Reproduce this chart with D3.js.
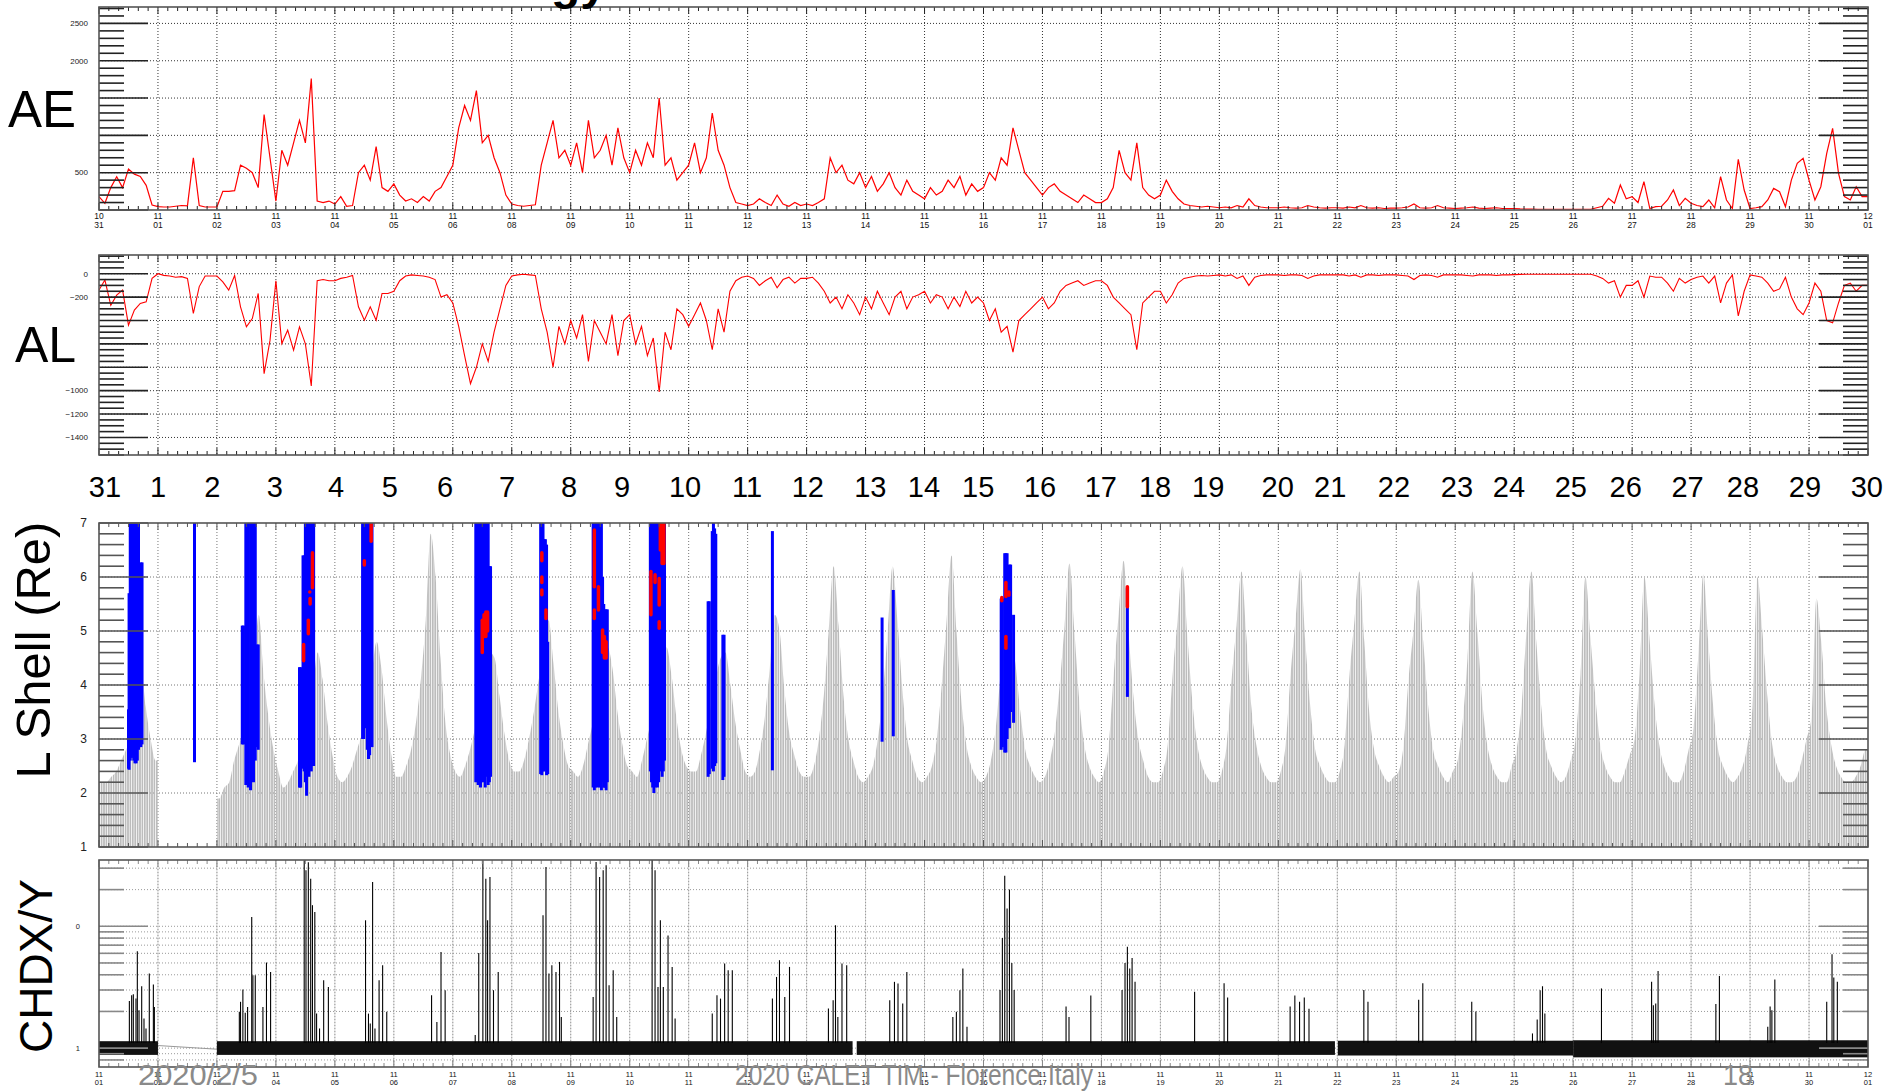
<!DOCTYPE html>
<html>
<head>
<meta charset="utf-8">
<script src="https://cdn.jsdelivr.net/npm/d3@7"></script>
<style>
  body { margin: 0; background: #fff; }
  svg { display: block; }
  text { font-family: "Liberation Sans", Arial, sans-serif; }
</style>
</head>
<body>
<svg id="chart" width="1891" height="1091"></svg>
<script>
// ---- tick labels ----
var topMonth = ["10","11","11","11","11","11","11","11","11","11","11","11","11","11","11","11","11","11","11","11","11","11","11","11","11","11","11","11","11","11","12"];
var topDay = ["31","01","02","03","04","05","06","08","09","10","11","12","13","14","15","16","17","18","19","20","21","22","23","24","25","26","27","28","29","30","01"];
var botMonth = ["11","11","11","11","11","11","11","11","11","11","11","11","11","11","11","11","11","11","11","11","11","11","11","11","11","11","11","11","11","11","12"];
var botDay = ["01","02","03","04","05","06","07","08","09","10","11","12","13","14","15","16","17","18","19","20","21","22","23","24","25","26","27","28","29","30","01"];

// big day numbers above the L shell panel (position in day units)
var bigDays = ["31","1","2","3","4","5","6","7","8","9","10","11","12","13","14","15","16","17","18","19","20","21","22","23","24","25","26","27","28","29","30"];
var bigDayPos = [0.10,1.00,1.92,2.98,4.02,4.93,5.87,6.92,7.97,8.87,9.94,10.99,12.02,13.08,13.99,14.91,15.96,16.99,17.91,18.81,19.99,20.88,21.96,23.03,23.91,24.96,25.89,26.94,27.88,28.93,29.98];

// ---- AE (nT), one value every 0.1 day ----
var aeStep = 0.1;
var aeValues = [
 180,90,300,446,300,550,480,450,330,67,
 45,40,40,50,60,55,700,60,40,40,
 40,250,250,260,600,560,500,300,1280,700,
 120,800,600,900,1200,900,1760,120,100,120,
 80,180,50,60,500,600,400,850,300,250,
 350,200,120,150,100,180,120,250,300,450,
 600,1100,1400,1200,1600,900,1000,700,500,200,
 80,60,50,60,70,600,900,1200,700,800,
 600,900,500,1200,700,800,1000,600,1100,700,
 500,800,600,900,700,1500,600,700,400,500,
 600,900,500,700,1300,800,600,300,100,80,
 60,80,150,100,60,200,80,50,100,60,
 80,60,100,150,700,500,600,400,350,500,
 300,450,250,350,500,300,200,400,250,200,
 150,300,200,250,400,300,450,200,350,250,
 300,500,400,700,600,1100,800,500,400,300,
 200,300,350,250,200,150,100,200,150,100,
 100,150,300,800,500,400,900,300,200,150,
 200,400,250,150,80,60,50,40,50,40,
 30,40,30,60,40,150,60,40,30,30,
 30,40,30,25,30,60,40,30,25,30,
 30,25,40,30,60,30,25,30,20,25,
 25,30,40,80,30,25,30,60,30,25,
 20,25,30,40,25,20,25,30,20,20,
 20,15,12,12,10,10,10,10,10,10,
 10,10,10,10,30,50,156,90,335,150,
 178,100,380,20,45,50,134,268,60,156,
 90,60,45,134,30,446,134,20,680,268,
 20,30,45,134,290,245,45,400,625,692,
 400,134,312,760,1094,490,180,134,312,180,
 180
];

// ---- AL (nT), one value every 0.1 day ----
var alValues = [
 -140,-54,-270,-183,-140,-440,-311,-254,-240,-40,
 0,-14,-20,-30,-25,-40,-340,-110,-20,-20,
 -20,-70,-140,-15,-283,-454,-383,-169,-854,-570,
 -60,-597,-483,-654,-454,-600,-960,-60,-50,-60,
 -60,-40,-30,-15,-283,-397,-283,-397,-169,-169,
 -150,-60,-20,-10,-15,-20,-30,-50,-200,-180,
 -250,-450,-700,-940,-800,-600,-750,-500,-300,-100,
 -20,-10,-5,-10,-15,-300,-500,-800,-450,-600,
 -400,-550,-350,-750,-400,-500,-600,-350,-700,-400,
 -350,-600,-450,-700,-550,-1010,-500,-650,-300,-350,
 -450,-350,-250,-400,-650,-300,-500,-150,-60,-30,
 -20,-40,-100,-60,-30,-120,-50,-30,-80,-40,
 -40,-30,-80,-150,-250,-200,-300,-180,-250,-350,
 -200,-300,-150,-250,-350,-200,-150,-300,-200,-180,
 -150,-250,-180,-200,-300,-200,-280,-150,-250,-200,
 -250,-400,-300,-500,-450,-670,-400,-350,-300,-250,
 -200,-300,-250,-150,-100,-80,-60,-100,-80,-60,
 -60,-100,-200,-250,-300,-350,-650,-250,-200,-150,
 -150,-250,-180,-80,-40,-30,-20,-15,-20,-15,
 -10,-20,-10,-40,-20,-100,-30,-15,-10,-10,
 -10,-15,-10,-10,-15,-40,-20,-10,-10,-10,
 -10,-10,-20,-10,-30,-10,-10,-15,-10,-10,
 -10,-15,-20,-50,-15,-10,-15,-30,-10,-10,
 -10,-10,-15,-20,-10,-10,-10,-15,-10,-10,
 -8,-6,-5,-5,-5,-5,-5,-5,-5,-5,
 -5,-5,-5,-5,-20,-40,-80,-60,-200,-100,
 -100,-60,-200,-20,-30,-30,-80,-150,-40,-80,
 -50,-30,-20,-80,-20,-250,-80,-10,-360,-150,
 -10,-20,-30,-80,-150,-130,-30,-200,-300,-350,
 -250,-80,-150,-400,-420,-250,-100,-80,-150,-100,
 -100
];

// ---- L shell orbit trace: envelope per day, 12 two-hour bins (null = no data) ----
var lshellGray = [
 [2.2,2.2,2.3,2.4,2.6,2.8,3.0,3.5,4.4,3.6,3.0,2.6],
 null,
 [1.9,2.1,2.2,2.6,2.9,3.2,3.8,4.3,5.3,4.2,3.4,2.8],
 [2.4,2.1,2.2,2.4,2.6,3.0,3.4,3.9,4.6,4.1,3.3,2.7],
 [2.3,2.2,2.3,2.5,2.8,3.1,3.6,4.2,4.8,4.3,3.4,2.7],
 [2.3,2.3,2.5,2.8,3.3,4.1,5.2,6.8,6.0,4.5,3.3,2.7],
 [2.4,2.3,2.5,2.8,3.2,3.7,4.2,4.6,4.5,3.8,3.1,2.6],
 [2.4,2.4,2.6,3.0,3.5,4.1,4.7,5.2,4.4,3.5,2.9,2.5],
 [2.4,2.3,2.5,2.9,3.3,3.8,4.3,4.7,4.3,3.5,2.9,2.5],
 [2.4,2.3,2.6,3.0,3.4,3.9,4.4,4.7,4.2,3.4,2.8,2.5],
 [2.4,2.4,2.7,3.1,3.6,4.1,4.5,4.6,4.0,3.3,2.8,2.4],
 [2.3,2.4,2.8,3.4,4.3,5.3,5.0,3.9,3.1,2.7,2.4,2.3],
 [2.3,2.5,3.0,3.8,5.0,6.2,5.1,3.8,3.0,2.6,2.3,2.2],
 [2.3,2.5,3.0,3.8,5.0,6.2,5.2,3.9,3.0,2.6,2.3,2.2],
 [2.3,2.5,3.0,4.0,5.2,6.4,5.0,3.7,2.9,2.5,2.3,2.2],
 [2.3,2.6,3.2,4.2,4.8,5.0,4.4,3.5,2.8,2.5,2.3,2.2],
 [2.3,2.6,3.1,4.0,5.1,6.25,5.0,3.7,2.9,2.5,2.3,2.2],
 [2.4,2.9,4.2,5.3,6.3,5.0,3.8,3.0,2.6,2.3,2.2,2.2],
 [2.4,2.9,4.2,5.2,6.2,4.9,3.7,2.9,2.5,2.3,2.2,2.2],
 [2.4,2.9,4.1,5.1,6.1,4.9,3.6,2.9,2.5,2.3,2.2,2.2],
 [2.4,2.9,4.2,5.2,6.15,4.8,3.6,2.8,2.5,2.3,2.2,2.2],
 [2.4,2.9,4.2,5.2,6.1,4.8,3.5,2.8,2.5,2.3,2.2,2.3],
 [2.4,2.9,4.1,5.0,5.95,4.8,3.6,2.8,2.5,2.3,2.2,2.4],
 [2.6,3.3,4.5,6.1,5.0,3.7,2.9,2.5,2.3,2.2,2.2,2.5],
 [2.8,3.6,5.0,6.1,4.8,3.6,2.8,2.5,2.3,2.2,2.3,2.6],
 [3.0,4.2,6.0,4.9,3.8,2.9,2.5,2.3,2.2,2.2,2.4,2.7],
 [3.0,4.2,6.0,4.9,3.7,2.9,2.5,2.3,2.2,2.2,2.4,2.8],
 [3.2,4.6,6.05,4.8,3.6,2.8,2.5,2.3,2.2,2.3,2.5,2.9],
 [3.6,6.0,5.0,3.8,2.9,2.5,2.3,2.2,2.2,2.3,2.6,3.0],
 [3.4,5.6,4.8,3.6,2.9,2.5,2.3,2.2,2.2,2.3,2.5,2.8]
];

// blue event bars [day, L low, L high]
var blueBars = [
 [0.50,2.45,3.55],[0.51,2.43,5.7],[0.53,2.6,7],[0.55,2.65,7],[0.57,2.7,7],[0.59,2.6,7],[0.61,2.55,7],[0.63,2.55,7],[0.65,2.6,7],[0.67,2.8,7],[0.69,2.85,5.6],[0.71,2.85,6.27],[0.73,2.9,6.27],
 [1.62,2.57,7],
 [2.43,2.9,5.1],[2.45,2.9,5.1],[2.49,2.15,7],[2.51,2.2,7],[2.53,2.1,7],[2.57,2.05,7],[2.60,2.8,7],[2.62,2.2,7],[2.65,2.6,7],[2.68,2.85,4.75],[2.70,2.8,4.75],
 [3.40,2.1,4.33],[3.42,2.1,4.33],[3.46,2.45,6.4],[3.48,2.4,6.4],[3.50,2.2,7],[3.52,1.95,7],[3.54,2.4,7],[3.56,2.3,7],[3.58,2.5,7],[3.60,2.4,7],[3.62,2.5,7],[3.64,2.5,7],
 [4.47,3.0,7],[4.49,3.0,7],[4.51,3.5,7],[4.53,3.2,7],[4.55,2.8,7],[4.57,2.63,7],[4.59,2.7,7],[4.61,2.9,7],[4.63,2.85,7],
 [6.39,2.2,7],[6.41,2.3,7],[6.43,2.15,7],[6.45,2.2,7],[6.47,2.1,7],[6.49,2.2,7],[6.51,2.3,7],[6.53,2.2,7],[6.55,2.1,7],[6.57,2.3,7],[6.60,2.15,7],[6.62,2.2,6.2],[6.64,2.3,6.2],
 [7.49,2.35,7],[7.51,2.33,7],[7.53,2.4,7],[7.55,2.4,6.7],[7.57,2.45,6.7],[7.59,2.33,6.6],[7.61,2.35,4.8],
 [8.38,2.1,7],[8.40,2.05,7],[8.42,2.1,7],[8.44,2.2,7],[8.46,2.1,7],[8.48,2.3,7],[8.50,2.1,7],[8.52,2.05,7],[8.54,2.2,6.0],[8.56,2.1,5.5],[8.58,2.1,5.4],[8.60,2.05,5.4],[8.62,2.2,5.4],
 [9.35,2.4,7],[9.37,2.2,7],[9.39,2.1,7],[9.41,2.0,7],[9.43,2.1,7],[9.45,2.3,7],[9.47,2.1,7],[9.49,2.2,7],[9.51,2.4,7],[9.53,2.5,7],[9.55,2.3,7],[9.57,2.4,7],[9.59,2.6,7],
 [10.33,2.3,5.55],[10.35,2.35,5.55],[10.40,2.45,6.85],[10.42,2.4,7],[10.44,2.5,6.9],[10.46,2.55,6.8],[10.58,2.24,4.93],[10.60,2.3,4.93],
 [11.42,2.42,6.85],
 [13.28,2.95,5.25],[13.47,3.05,5.76],
 [15.30,2.8,5.6],[15.32,2.85,5.6],[15.36,2.75,6.44],[15.38,2.75,6.44],[15.40,3.0,6.44],[15.44,3.2,6.23],[15.46,3.5,6.23],[15.51,3.3,5.3],
 [17.44,3.78,5.8]
];

// red marks [day, L low, L high]
var redMarks = [
 [3.47,4.45,4.75],[3.55,4.95,5.2],[3.58,5.5,5.6],[3.575,5.72,5.72],[3.62,5.8,6.45],
 [4.50,6.22,6.3],[4.615,6.66,7.0],
 [6.50,4.6,5.2],[6.53,4.9,5.3],[6.56,4.9,5.35],[6.59,5.0,5.35],
 [7.51,6.3,6.45],[7.51,5.9,6.0],[7.51,5.67,5.76],[7.58,5.23,5.39],
 [8.40,5.82,6.87],[8.40,5.23,5.39],[8.47,5.39,5.82],[8.54,4.6,5.02],[8.57,4.5,4.9],[8.60,4.5,4.8],
 [9.36,5.3,6.1],[9.43,5.9,6.04],[9.50,5.48,5.97],[9.50,5.05,5.17],[9.55,6.25,7],[9.58,6.25,7],[9.52,6.5,7],
 [15.31,5.56,5.62],[15.38,5.64,5.9],[15.43,5.66,5.72],[15.38,4.68,4.9],
 [17.44,5.45,5.82]
];

// ---- CHDX/Y ----
var chdBand = [[0,1.0,0.88,1.14],[2.0,12.78,0.88,1.14],[12.85,20.96,0.88,1.14],[21.01,25.0,0.87,1.15],[25.0,30,0.84,1.16]];
var chdGapLine = [[1.0,1.05],[2.0,0.98]];
var chdSpikes = [
 [0.515,2.44],[0.554,2.72],[0.582,2.77],[0.627,2.55],[0.650,6.24],[0.679,2.05],[0.724,3.22],[0.763,1.75],[0.797,1.45],[0.853,4.09],[0.922,3.33],[0.939,2.18],
 [2.38,1.99],[2.40,2.40],[2.44,3.03],[2.48,1.95],[2.52,2.18],[2.59,11.9],[2.61,3.97],[2.65,3.97],[2.78,2.18],[2.84,5.04],[2.91,4.22],
 [3.48,34.8],[3.51,28.8],[3.55,33.6],[3.59,24.6],[3.62,14.9],[3.66,13.1],[3.69,1.92],[3.74,1.45],[3.81,3.61],[3.89,3.18],
 [4.52,11.2],[4.57,1.92],[4.60,1.59],[4.64,23.1],[4.68,1.45],[4.75,3.61],[4.81,4.79],[4.88,1.99],
 [5.64,2.72],[5.73,1.64],[5.80,6.16],[5.87,2.99],
 [6.38,1.28],[6.44,6.04],[6.51,34.8],[6.56,24.6],[6.59,11.2],[6.63,25.4],[6.69,2.99],[6.77,4.22],
 [7.53,12.3],[7.58,30.6],[7.63,4.09],[7.68,4.79],[7.75,4.22],[7.81,5.1],[7.84,1.8],
 [8.38,2.63],[8.43,33.7],[8.49,25.4],[8.55,28.8],[8.60,31.7],[8.65,3.28],[8.72,4.36],[8.78,1.8],
 [9.38,35.9],[9.43,28.8],[9.48,3.18],[9.52,11.2],[9.57,3.18],[9.65,8.4],[9.72,4.64],[9.77,1.75],
 [10.40,1.92],[10.48,2.72],[10.54,2.55],[10.61,4.95],[10.67,4.36],[10.74,4.36],
 [11.42,2.55],[11.49,3.84],[11.54,5.27],[11.63,2.63],[11.71,4.64],
 [12.37,2.11],[12.45,2.47],[12.49,10.2],[12.53,1.8],[12.60,4.95],[12.68,4.79],
 [13.41,2.47],[13.49,3.5],[13.55,3.39],[13.63,2.32],[13.70,4.22],
 [14.48,1.8],[14.54,1.99],[14.60,2.99],[14.65,4.5],[14.72,1.5],
 [15.28,3.0],[15.32,8],[15.36,26],[15.40,14],[15.44,20],[15.48,5],[15.52,3],
 [16.40,2.2],[16.45,1.8],[16.82,2.7],
 [17.35,3],[17.40,5],[17.44,6.8],[17.48,4.5],[17.52,5.5],[17.57,3.5],
 [18.58,2.9],[19.08,3.4],[19.14,2.6],
 [20.20,2.2],[20.28,2.7],[20.36,2.4],[20.44,2.6],[20.52,2.1],
 [21.45,3.0],[21.52,2.4],[22.38,2.5],[22.45,3.4],[23.28,2.4],[23.35,2.0],
 [24.31,1.32],[24.39,1.72],[24.44,2.99],[24.48,3.22],[24.52,1.92],
 [25.48,3.09],
 [26.33,3.5],[26.36,2.25],[26.40,2.32],[26.44,4.3],
 [27.42,2.3],[27.48,3.9],
 [28.30,1.5],[28.34,2.2],[28.37,2.05],[28.42,3.66],
 [29.30,2.4],[29.39,5.9],[29.42,3.8],[29.48,3.5]
];

// ---- layout ----
var svg = d3.select('#chart');
var X0 = 99, X1 = 1868;
var x = d3.scaleLinear().domain([0, 30]).range([X0, X1]);

var panels = [
  { id: 'ae', top: 7, bottom: 210, y: d3.scaleLinear().domain([0, 2720]).range([210, 7]),
    majors: d3.range(0, 2721, 500), minors: d3.range(0, 2721, 100), grid: [500, 1000, 1500, 2000, 2500],
    labels: [[500, '500'], [2000, '2000'], [2500, '2500']], labelSize: 8, labelX: 88, tickColor: '#222', gridColor: '#333' },
  { id: 'al', top: 255, bottom: 455, y: d3.scaleLinear().domain([-1550, 160]).range([455, 255]),
    majors: d3.range(-1400, 161, 200), minors: d3.range(-1550, 161, 50), grid: d3.range(-1400, 1, 200),
    labels: [[0, '0'], [-200, '\u2212200'], [-1000, '\u22121000'], [-1200, '\u22121200'], [-1400, '\u22121400']], labelSize: 8, labelX: 88, tickColor: '#222', gridColor: '#333' },
  { id: 'ls', top: 523, bottom: 847, y: d3.scaleLinear().domain([1, 7]).range([847, 523]),
    majors: [1, 2, 3, 4, 5, 6, 7], minors: d3.range(0, 31).map(function (i) { return 1 + i * 0.2; }), grid: [2, 3, 4, 5, 6],
    labels: [[1, '1'], [2, '2'], [3, '3'], [4, '4'], [5, '5'], [6, '6'], [7, '7']], labelSize: 12, labelX: 87, tickColor: '#555', gridColor: '#777' },
  { id: 'ch', top: 860, bottom: 1067, y: d3.scaleLog().domain([0.7, 35]).range([1067, 860]),
    majors: [1, 10], minors: [0.8, 0.9, 2, 3, 4, 5, 6, 7, 8, 9, 20, 30], grid: [0.8, 0.9, 1, 2, 3, 4, 5, 6, 7, 8, 9, 10, 20, 30],
    labels: [[1, '1'], [10, '0']], labelSize: 7.5, labelX: 80, tickColor: '#888', gridColor: '#999' }
];

// clip paths, stripe pattern and layers
var defs = svg.append('defs');
var stripes = defs.append('pattern').attr('id', 'stripes').attr('patternUnits', 'userSpaceOnUse')
  .attr('width', 2.4).attr('height', 10);
stripes.append('rect').attr('x', 0).attr('y', 0).attr('width', 1.7).attr('height', 10).attr('fill', '#bcbcbc');
panels.forEach(function (p) {
  defs.append('clipPath').attr('id', 'clip-' + p.id)
    .append('rect').attr('x', X0).attr('y', p.top).attr('width', X1 - X0).attr('height', p.bottom - p.top);
  p.gridG = svg.append('g');
  p.dataG = svg.append('g').attr('clip-path', 'url(#clip-' + p.id + ')');
  p.axisG = svg.append('g');
});

// grids
panels.forEach(function (p) {
  if (p.id === 'ch') {
    p.gridG.selectAll('line.vs').data(d3.range(1, 30)).join('line').attr('class', 'vs')
      .attr('x1', function (d) { return x(d); }).attr('x2', function (d) { return x(d); })
      .attr('y1', p.top).attr('y2', p.bottom).attr('stroke', '#d4d4d4').attr('stroke-width', 1);
  }
  p.gridG.selectAll('line.v').data(d3.range(1, 30)).join('line').attr('class', 'v')
    .attr('x1', function (d) { return x(d); }).attr('x2', function (d) { return x(d); })
    .attr('y1', p.top).attr('y2', p.bottom)
    .attr('stroke', p.gridColor).attr('stroke-width', 1).attr('stroke-dasharray', '1,2');
  p.gridG.selectAll('line.h').data(p.grid).join('line').attr('class', 'h')
    .attr('x1', X0).attr('x2', X1).attr('y1', function (d) { return p.y(d); }).attr('y2', function (d) { return p.y(d); })
    .attr('stroke', p.gridColor).attr('stroke-width', 1).attr('stroke-dasharray', '1,2');
});

var ae = panels[0], al = panels[1], ls = panels[2], ch = panels[3];

// ---- AE ----
ae.dataG.append('path').datum(aeValues)
  .attr('fill', 'none').attr('stroke', '#ff0000').attr('stroke-width', 1.2)
  .attr('d', d3.line().x(function (d, i) { return x(i * aeStep); }).y(function (d) { return ae.y(d); }));

// ---- AL ----
al.dataG.append('path').datum(alValues)
  .attr('fill', 'none').attr('stroke', '#ff0000').attr('stroke-width', 1.1)
  .attr('d', d3.line().x(function (d, i) { return x(i * aeStep); }).y(function (d) { return al.y(d); }));

// ---- L shell gray trace ----
var grayPts = [];
lshellGray.forEach(function (bins, day) {
  if (!bins) { grayPts.push(null); return; }
  if (day === 0 || !lshellGray[day - 1]) grayPts.push({ t: day, v: bins[0] });
  bins.forEach(function (v, b) { grayPts.push({ t: day + (b + 0.5) / 12, v: v }); });
  if (day === lshellGray.length - 1 || !lshellGray[day + 1]) grayPts.push({ t: day + 1, v: bins[11] });
});
var grayArea = d3.area().defined(function (d) { return d !== null; })
  .x(function (d) { return x(d.t); }).y0(ls.y(1)).y1(function (d) { return ls.y(d.v); })
  .curve(d3.curveMonotoneX);
ls.dataG.append('path').datum(grayPts).attr('d', grayArea).attr('fill', 'url(#stripes)');

ls.dataG.selectAll('line.b').data(blueBars).join('line').attr('class', 'b')
  .attr('x1', function (d) { return x(d[0]); }).attr('x2', function (d) { return x(d[0]); })
  .attr('y1', function (d) { return ls.y(d[1]); }).attr('y2', function (d) { return ls.y(d[2]); })
  .attr('stroke', '#0000ff').attr('stroke-width', 3);

ls.dataG.selectAll('line.r').data(redMarks).join('line').attr('class', 'r')
  .attr('x1', function (d) { return x(d[0]); }).attr('x2', function (d) { return x(d[0]); })
  .attr('y1', function (d) { return ls.y(d[1]); }).attr('y2', function (d) { return ls.y(d[2]); })
  .attr('stroke', '#ff0000').attr('stroke-width', 3.5).attr('stroke-linecap', 'round');

// ---- CHDX/Y ----
ch.dataG.append('path').datum(chdGapLine)
  .attr('fill', 'none').attr('stroke', '#999').attr('stroke-width', 1)
  .attr('d', d3.line().x(function (d) { return x(d[0]); }).y(function (d) { return ch.y(d[1]); }));
ch.dataG.selectAll('rect.band').data(chdBand).join('rect').attr('class', 'band')
  .attr('x', function (d) { return x(d[0]); }).attr('width', function (d) { return x(d[1]) - x(d[0]); })
  .attr('y', function (d) { return ch.y(d[3]); }).attr('height', function (d) { return ch.y(d[2]) - ch.y(d[3]); })
  .attr('fill', '#111');
ch.dataG.selectAll('line.s').data(chdSpikes).join('line').attr('class', 's')
  .attr('x1', function (d) { return x(d[0]); }).attr('x2', function (d) { return x(d[0]); })
  .attr('y1', ch.y(1.1)).attr('y2', function (d) { return ch.y(d[1]); })
  .attr('stroke', '#000').attr('stroke-width', 1.1);

// ---- axes ----
var xMinor = d3.range(0, 181).map(function (i) { return i / 6; });
panels.forEach(function (p) {
  var g = p.axisG;
  function yt(cls, vals, len) {
    g.selectAll('line.l' + cls).data(vals).join('line').attr('class', 'l' + cls)
      .attr('x1', X0).attr('x2', X0 + len).attr('y1', function (d) { return p.y(d); }).attr('y2', function (d) { return p.y(d); })
      .attr('stroke', p.tickColor).attr('stroke-width', 1.6);
    g.selectAll('line.r' + cls).data(vals).join('line').attr('class', 'r' + cls)
      .attr('x1', X1 - len).attr('x2', X1).attr('y1', function (d) { return p.y(d); }).attr('y2', function (d) { return p.y(d); })
      .attr('stroke', p.tickColor).attr('stroke-width', 1.6);
  }
  var dom = p.y.domain();
  var lo = Math.min(dom[0], dom[1]), hi = Math.max(dom[0], dom[1]);
  yt('mi', p.minors.filter(function (v) { return v >= lo && v <= hi && p.majors.indexOf(v) < 0; }), 25);
  yt('ma', p.majors.filter(function (v) { return v >= lo && v <= hi; }), 49);

  g.selectAll('line.xt').data(xMinor).join('line').attr('class', 'xt')
    .attr('x1', function (d) { return x(d); }).attr('x2', function (d) { return x(d); })
    .attr('y1', p.top).attr('y2', function (d, i) { return p.top + (i % 6 === 0 ? 7 : 4); })
    .attr('stroke', p.tickColor).attr('stroke-width', 1);
  g.selectAll('line.xb').data(xMinor).join('line').attr('class', 'xb')
    .attr('x1', function (d) { return x(d); }).attr('x2', function (d) { return x(d); })
    .attr('y1', p.bottom).attr('y2', function (d, i) { return p.bottom - (i % 6 === 0 ? 7 : 4); })
    .attr('stroke', p.tickColor).attr('stroke-width', 1);

  g.append('rect').attr('x', X0).attr('y', p.top).attr('width', X1 - X0).attr('height', p.bottom - p.top)
    .attr('fill', 'none').attr('stroke', '#555').attr('stroke-width', 1.6);

  g.selectAll('text.yl').data(p.labels).join('text').attr('class', 'yl')
    .attr('x', p.labelX).attr('y', function (d) { return p.y(d[0]); }).attr('dy', '0.35em')
    .attr('text-anchor', 'end').attr('font-size', p.labelSize).attr('fill', '#222')
    .text(function (d) { return d[1]; });
});

// date labels under AE and CHDX/Y panels
function dateLabels(months, days, yTop, size, gap) {
  var g = svg.append('g').attr('font-size', size).attr('fill', '#111').attr('text-anchor', 'middle');
  g.selectAll('text.m').data(months).join('text').attr('class', 'm')
    .attr('x', function (d, i) { return x(i); }).attr('y', yTop).text(function (d) { return d; });
  g.selectAll('text.d').data(days).join('text').attr('class', 'd')
    .attr('x', function (d, i) { return x(i); }).attr('y', yTop + gap).text(function (d) { return d; });
}
dateLabels(topMonth, topDay, 219, 8.5, 9);
dateLabels(botMonth, botDay, 1077, 7.5, 7.5);

// big day numbers
svg.append('g').selectAll('text').data(bigDays).join('text')
  .attr('x', function (d, i) { return x(bigDayPos[i]); }).attr('y', 497)
  .attr('text-anchor', 'middle').attr('font-size', 29).attr('fill', '#000')
  .text(function (d) { return d; });

// title fragment cut by the top edge (only the descenders show)
svg.append('text').attr('x', 607).attr('y', -1).attr('text-anchor', 'end')
  .attr('font-size', 48).attr('font-weight', 'bold').text('Energy');

// panel names
svg.append('text').attr('x', 8).attr('y', 127).attr('font-size', 51).text('AE');
svg.append('text').attr('x', 15).attr('y', 362).attr('font-size', 50).text('AL');
svg.append('text').attr('transform', 'translate(50,650) rotate(-90)').attr('text-anchor', 'middle')
  .attr('font-size', 49).text('L Shell (Re)');
svg.append('text').attr('transform', 'translate(52,966) rotate(-90)').attr('text-anchor', 'middle')
  .attr('font-size', 46).text('CHDX/Y');

// footer
var foot = svg.append('g').attr('fill', '#8a8a8a').attr('font-family', 'Lato, "Open Sans", sans-serif').attr('font-size', 29);
foot.append('text').attr('x', 138).attr('y', 1085).attr('textLength', 120).attr('lengthAdjust', 'spacingAndGlyphs').text('2020/2/5');
foot.append('text').attr('x', 735).attr('y', 1085).attr('textLength', 358).attr('lengthAdjust', 'spacingAndGlyphs').text('2020 CALET TIM - Florence Italy');
foot.append('text').attr('x', 1723).attr('y', 1085).attr('textLength', 30).attr('lengthAdjust', 'spacingAndGlyphs').text('18');
</script>
</body>
</html>
